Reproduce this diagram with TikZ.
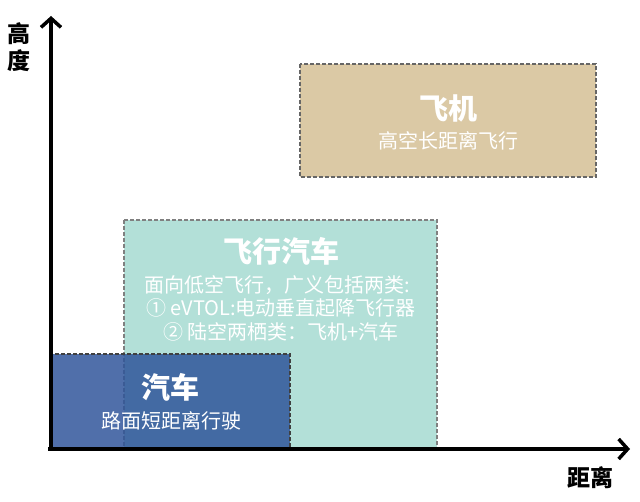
\documentclass[tikz,border=0pt]{standalone}
\usepackage{fontspec}
\setmainfont{Noto Sans CJK SC}
\newfontfamily\cjk{Noto Sans CJK SC}
\usetikzlibrary{arrows.meta}
\definecolor{tealfill}{HTML}{B3E0D8}
\definecolor{planefill}{HTML}{DBC9A5}
\definecolor{carfill}{RGB}{46,84,154}
\begin{document}
\begin{tikzpicture}[x=1pt,y=-1pt,
  box/.style={dashed,dash pattern=on 4pt off 2pt,line width=1.2pt},
  axis/.style={line width=3.5pt,-{Straight Barb[length=9pt,width=20pt,line width=3.5pt]}},
  title/.style={text=white,font=\cjk\bfseries\fontsize{29}{32}\selectfont,inner sep=0pt},
  sub/.style={text=white,font=\cjk\fontsize{20}{23}\selectfont,inner sep=0pt},
  axlabel/.style={font=\cjk\bfseries\fontsize{23}{25}\selectfont,inner sep=0pt,align=center}]
\useasboundingbox (0,0) rectangle (640,502);
% boxes
\draw[box,fill=tealfill,draw=gray] (124,220) rectangle (437,449);
\draw[box,fill=planefill,draw=black!60] (300,64) rectangle (596,177);
\draw[box,fill=carfill,fill opacity=0.84,draw=black!75] (51,354) rectangle (290,449);
% axes
\coordinate (O) at (51,450);
\coordinate (Y) at (51,16);
\coordinate (X) at (630,449);
\coordinate (X0) at (48,449);
\draw[axis] (O) -- (Y);
\draw[axis] (X0) -- (X);
% labels
\node[axlabel] (ylab) at (19,47) {高\\[2pt]度};
\node[axlabel] (xlab) at (590,478) {距离};
\node[title] (t1) at (448,108) {飞机};
\node[sub] (s1) at (448,141) {高空长距离飞行};
\node[title] (t2) at (281,251) {飞行汽车};
\node[sub] (s2a) at (277,285) {面向低空飞行，广义包括两类:};
\node[sub] (s2b) at (281,308) {① eVTOL:电动垂直起降飞行器};
\node[sub] (s2c) at (281,332) {② 陆空两栖类：飞机+汽车};
\node[title] (t3) at (170,387) {汽车};
\node[sub] (s3) at (171,421) {路面短距离行驶};
\end{tikzpicture}
\end{document}
